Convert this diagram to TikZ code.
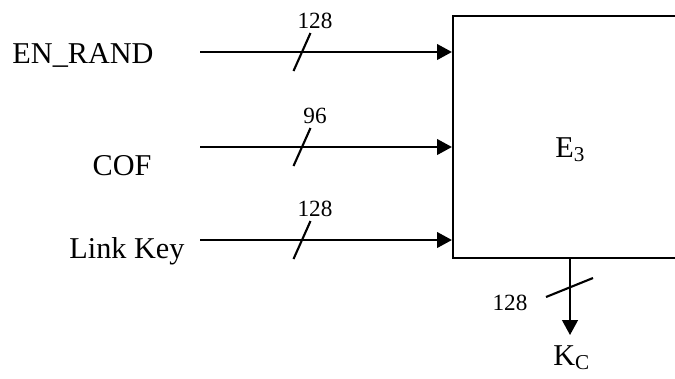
\documentclass[tikz,border=0pt]{standalone}
\usepackage{fontspec}
\setmainfont{Liberation Serif}
\usetikzlibrary{arrows.meta, positioning, calc}

\tikzset{
  lbl/.style={font=\fontsize{21.5}{24}\selectfont, inner sep=0pt},
  num/.style={font=\fontsize{16.5}{19}\selectfont, inner sep=0pt},
  wire/.style={line width=1.5pt, -{Triangle[length=10.5pt, width=11pt]}},
  tick/.style={line width=1.5pt},
  block/.style={draw, line width=1.5pt, rectangle, minimum width=5.85cm, minimum height=6.05cm, inner sep=0pt},
}

\begin{document}
\begin{tikzpicture}[x=0.025cm, y=-0.025cm]
  \useasboundingbox (0,0) rectangle (675,378);
  % the E3 block, its right side runs past the page
  \node[block] (enc) at (570,137) {};
  \node[lbl, anchor=base west] (ename) at (555,157) {E\textsubscript{3}};
  % inputs
  \foreach \nm/\txt/\lx/\by/\yy/\bits in {enrand/EN\_RAND/83/63/52/128, cof/COF/122/175/147/96, lkey/Link Key/127/258/240/128}{
    \node[lbl, anchor=base] (\nm) at (\lx,\by) {\txt};
    \coordinate (in\nm) at (200,\yy);
    \draw[wire] (in\nm) -- (in\nm -| enc.west);
    \draw[tick] ([shift={(93.5,19)}]in\nm) -- ++(17,-38);
    \node[num, anchor=base] (b\nm) at ([shift={(115,-24)}]in\nm) {\bits};}
  % output
  \coordinate (kout) at (570,335);
  \draw[wire] (enc.south) -- (kout);
  \draw[tick] (546,297) -- (593,278);
  \node[num, anchor=base] (bout) at (510,310) {128};
  \node[lbl, anchor=base west] (kc) at (553,365) {K\textsubscript{C}};
\end{tikzpicture}
\end{document}
